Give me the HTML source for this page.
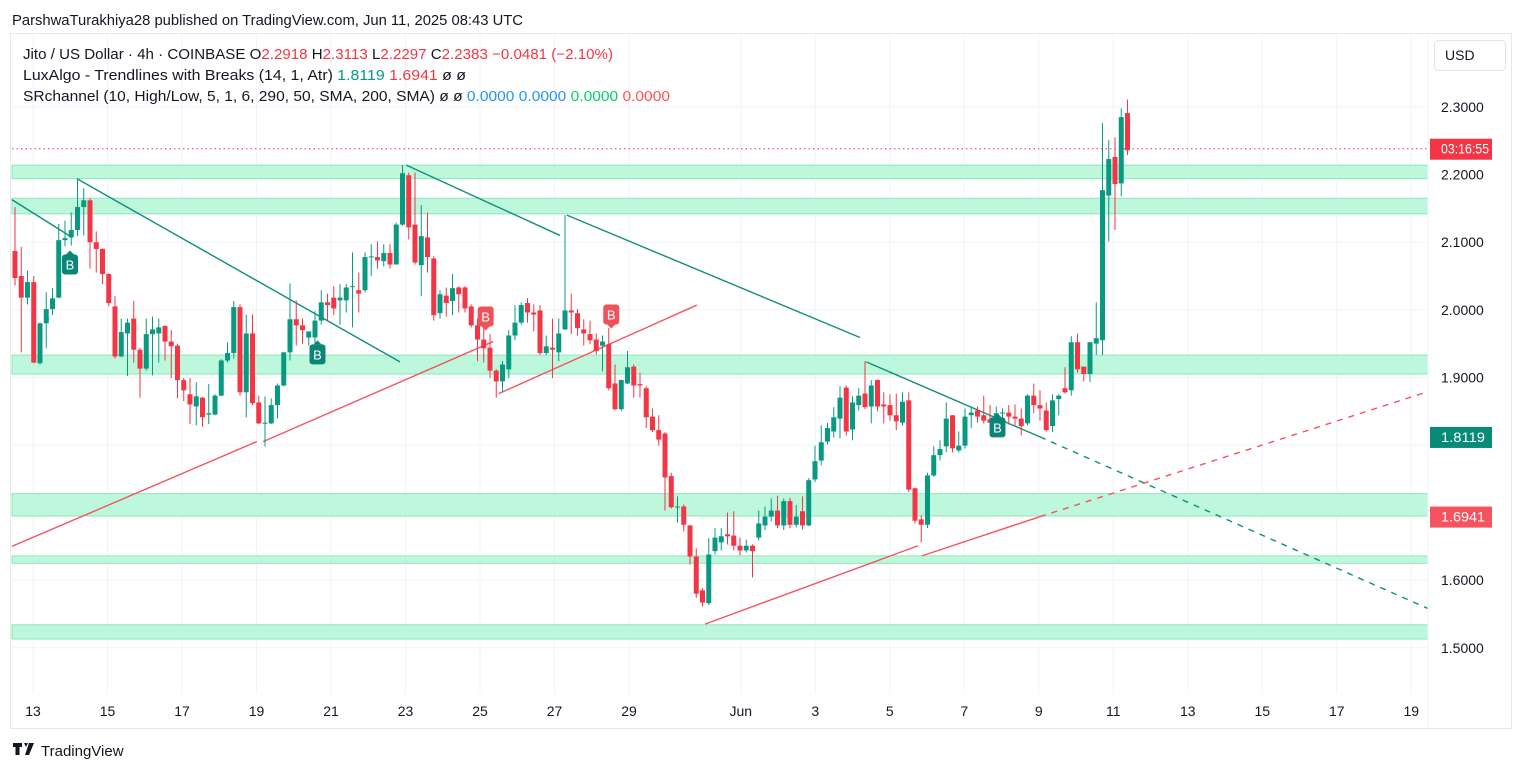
<!DOCTYPE html>
<html><head><meta charset="utf-8">
<style>
body{margin:0;background:#fff;font-family:"Liberation Sans",sans-serif;}
#wrap{position:relative;width:1524px;height:772px;overflow:hidden;}
svg text{font-family:"Liberation Sans",sans-serif;}
</style></head>
<body>
<div id="wrap">
<svg id="chart" width="1524" height="772" viewBox="0 0 1524 772">
  <text x="12" y="25" font-size="15" fill="#131722" textLength="511" lengthAdjust="spacingAndGlyphs">ParshwaTurakhiya28 published on TradingView.com, Jun 11, 2025 08:43 UTC</text>
  <rect x="10.5" y="33.5" width="1501" height="695" fill="#fff" stroke="#e8e9ec"/>
  <g id="grid"></g>
  <g id="zones"></g>
  <g id="lines"></g>
  <g id="candles"></g>
  <g id="labels"></g>
  <g id="yaxis"></g>
  <g id="xaxis"></g>
  <g font-size="14.5" xml:space="preserve">
    <text x="23" y="59" fill="#131722" textLength="590" lengthAdjust="spacingAndGlyphs">Jito / US Dollar · 4h · COINBASE  O<tspan fill="#f23645">2.2918</tspan>  H<tspan fill="#f23645">2.3113</tspan>  L<tspan fill="#f23645">2.2297</tspan>  C<tspan fill="#f23645">2.2383</tspan>  <tspan fill="#f23645">−0.0481 (−2.10%)</tspan></text>
    <text x="23" y="80" fill="#131722" textLength="443" lengthAdjust="spacingAndGlyphs">LuxAlgo - Trendlines with Breaks (14, 1, Atr)  <tspan fill="#089981">1.8119</tspan>  <tspan fill="#f23645">1.6941</tspan>  ø  ø</text>
    <text x="23" y="101" fill="#131722" textLength="647" lengthAdjust="spacingAndGlyphs">SRchannel (10, High/Low, 5, 1, 6, 290, 50, SMA, 200, SMA)  ø  ø  <tspan fill="#2196f3">0.0000</tspan>  <tspan fill="#2196f3">0.0000</tspan>  <tspan fill="#00d26a">0.0000</tspan>  <tspan fill="#ff5252">0.0000</tspan></text>
  </g>
  <rect x="1434.5" y="40.5" width="71" height="30" rx="4" fill="#fff" stroke="#e0e3eb"/>
  <text x="1445" y="60" font-size="14" fill="#131722">USD</text>
  <g>
    <path d="M13 743h9v4h-2.5v8h-4v-8H13z M24 743h4l-2 4z M29 743h5l-5 12h-4z" fill="#131722"/>
    <text x="41" y="756" font-size="15" fill="#131722">TradingView</text>
  </g>
</svg>
</div>
<script>
const opens=[2.087,2.050,2.018,2.041,1.921,1.980,2.001,2.018,2.103,2.107,2.118,2.152,2.162,2.100,2.090,2.053,2.005,1.931,1.965,1.987,1.941,1.913,1.964,1.965,1.976,1.953,1.947,1.896,1.875,1.857,1.870,1.845,1.845,1.873,1.925,1.936,2.004,1.878,1.965,1.863,1.832,1.832,1.859,1.888,1.937,1.986,1.977,1.959,1.959,1.984,2.011,2.018,2.014,2.014,2.035,2.029,2.029,2.078,2.078,2.072,2.084,2.067,2.126,2.199,2.126,2.066,2.107,2.076,1.995,2.021,2.013,2.033,2.033,2.005,1.977,1.956,1.944,1.910,1.894,1.912,1.962,1.981,2.010,1.996,1.999,1.936,1.944,1.937,1.971,1.999,1.995,1.971,1.964,1.956,1.947,1.949,1.891,1.853,1.891,1.916,1.890,1.884,1.842,1.822,1.817,1.754,1.708,1.709,1.681,1.635,1.585,1.566,1.643,1.656,1.668,1.666,1.651,1.644,1.651,1.663,1.681,1.694,1.703,1.681,1.717,1.682,1.702,1.681,1.749,1.777,1.805,1.820,1.839,1.885,1.823,1.859,1.876,1.857,1.896,1.860,1.859,1.844,1.833,1.866,1.736,1.690,1.682,1.755,1.785,1.798,1.844,1.792,1.799,1.844,1.851,1.844,1.838,1.836,1.847,1.848,1.842,1.839,1.832,1.873,1.859,1.851,1.828,1.868,1.884,1.881,1.952,1.916,1.905,1.950,1.955,2.169,2.226,2.187,2.291];
const closes=[2.047,2.018,2.041,1.922,1.980,2.001,2.017,2.103,2.106,2.118,2.152,2.162,2.100,2.090,2.053,2.010,1.931,1.967,1.981,1.941,1.913,1.964,1.971,1.974,1.953,1.946,1.896,1.881,1.860,1.872,1.841,1.847,1.873,1.925,1.936,2.004,1.878,1.965,1.862,1.832,1.833,1.859,1.888,1.937,1.986,1.977,1.970,1.968,1.984,2.011,2.007,2.002,2.018,2.033,2.035,2.024,2.078,2.079,2.073,2.084,2.067,2.126,2.202,2.122,2.070,2.109,2.078,1.992,2.023,2.010,2.032,2.023,2.002,1.977,1.956,1.943,1.910,1.894,1.919,1.962,1.981,2.007,1.996,1.993,1.936,1.946,1.941,1.965,1.999,1.996,1.973,1.965,1.955,1.939,1.953,1.884,1.853,1.896,1.915,1.888,1.888,1.841,1.822,1.808,1.752,1.708,1.709,1.682,1.635,1.580,1.567,1.638,1.663,1.665,1.665,1.651,1.644,1.651,1.643,1.684,1.694,1.703,1.681,1.717,1.682,1.694,1.681,1.748,1.776,1.804,1.825,1.841,1.870,1.820,1.863,1.873,1.856,1.888,1.857,1.857,1.844,1.835,1.864,1.734,1.688,1.682,1.755,1.785,1.794,1.839,1.795,1.799,1.842,1.848,1.842,1.836,1.833,1.847,1.848,1.842,1.839,1.828,1.873,1.859,1.854,1.822,1.866,1.873,1.878,1.952,1.912,1.905,1.952,1.958,2.177,2.223,2.186,2.285,2.236];
const highs=[2.152,2.093,2.058,2.050,1.981,2.026,2.032,2.127,2.132,2.144,2.192,2.180,2.165,2.116,2.091,2.054,2.020,1.987,1.987,2.013,1.944,1.987,1.990,1.987,1.977,1.970,1.950,1.899,1.899,1.893,1.871,1.890,1.875,1.927,1.952,2.013,2.008,1.993,1.993,1.873,1.872,1.869,1.891,1.938,2.039,2.014,1.987,1.968,1.998,2.029,2.024,2.035,2.038,2.038,2.085,2.055,2.085,2.097,2.101,2.097,2.097,2.129,2.214,2.203,2.203,2.155,2.144,2.079,2.029,2.033,2.053,2.035,2.035,2.008,1.987,1.974,1.964,1.912,1.924,1.970,2.007,2.011,2.017,2.008,2.007,1.962,1.987,1.987,2.140,2.024,2.001,1.986,1.984,1.965,1.962,1.973,1.919,1.897,1.939,1.919,1.907,1.887,1.854,1.844,1.819,1.759,1.724,1.712,1.682,1.647,1.588,1.662,1.677,1.677,1.700,1.702,1.663,1.660,1.653,1.703,1.709,1.721,1.725,1.721,1.722,1.711,1.724,1.751,1.799,1.829,1.833,1.856,1.887,1.888,1.872,1.884,1.924,1.896,1.897,1.878,1.875,1.876,1.878,1.878,1.737,1.696,1.759,1.798,1.807,1.863,1.844,1.820,1.854,1.857,1.857,1.873,1.859,1.857,1.854,1.859,1.860,1.854,1.875,1.891,1.881,1.863,1.875,1.875,1.915,1.961,1.965,1.916,1.953,2.011,2.276,2.251,2.255,2.298,2.311];
const lows=[2.036,1.937,2.008,1.921,1.919,1.943,1.992,2.017,2.094,2.095,2.109,2.110,2.061,2.055,2.038,2.005,1.928,1.930,1.902,1.922,1.870,1.910,1.903,1.922,1.925,1.899,1.869,1.865,1.831,1.829,1.827,1.831,1.844,1.872,1.922,1.928,1.873,1.841,1.859,1.831,1.798,1.831,1.839,1.887,1.925,1.947,1.950,1.947,1.950,1.978,1.984,1.992,1.978,1.996,1.974,1.996,2.026,2.050,2.061,2.064,2.061,2.067,2.124,2.104,2.067,2.020,2.055,1.984,1.987,1.990,1.992,1.996,1.996,1.974,1.924,1.922,1.899,1.870,1.878,1.899,1.955,1.978,1.981,1.968,1.933,1.933,1.899,1.924,1.970,1.964,1.962,1.947,1.949,1.934,1.909,1.881,1.851,1.850,1.890,1.870,1.870,1.825,1.819,1.799,1.703,1.706,1.685,1.672,1.623,1.574,1.561,1.563,1.638,1.644,1.653,1.644,1.637,1.641,1.604,1.659,1.674,1.687,1.677,1.674,1.677,1.678,1.675,1.680,1.745,1.770,1.801,1.811,1.810,1.814,1.807,1.851,1.853,1.832,1.850,1.832,1.836,1.822,1.829,1.730,1.684,1.656,1.677,1.753,1.777,1.789,1.789,1.789,1.795,1.825,1.833,1.832,1.819,1.830,1.838,1.830,1.829,1.814,1.829,1.847,1.836,1.820,1.819,1.844,1.876,1.873,1.907,1.894,1.893,1.933,1.933,2.101,2.118,2.168,2.229];
const priceTicks=[2.3,2.2,2.1,2.0,1.9,1.5,1.6];
const gridPrices=[2.3,2.2,2.1,2.0,1.9,1.8,1.7,1.6,1.5];
const dayTicks=[13,15,17,19,21,23,25,27,29,32,34,36,38,40,42,44,46,48,50];
const dayLabels=["13","15","17","19","21","23","25","27","29","Jun","3","5","7","9","11","13","15","17","19"];
const zoneTops=[2.214,2.165,1.933,1.728,1.636,1.534];
const zoneBottoms=[2.194,2.142,1.905,1.695,1.625,1.513];
// trendline endpoints: [candleIndex, price]
const resistLines=[[[-0.5,2.163],[8.8,2.109]],[[9.9,2.194],[61.6,1.923]],[[62.6,2.214],[87.2,2.110]],[[88.3,2.140],[135.2,1.959]],[[136.2,1.923],[164,1.812]]];
const supportLines=[[[-0.5,1.650],[38.7,1.805]],[[39.7,1.805],[76.5,1.953]],[[77.4,1.876],[109.1,2.007]],[[110.4,1.535],[144.5,1.651]],[[145.1,1.636],[164,1.694]]];
const resistExt=[[164,1.812],[226.1,1.558]];
const supportExt=[[164,1.694],[226.1,1.879]];
const greenBreaks=[[8.8,2.067],[48.4,1.934],[157.2,1.826]];
const redBreaks=[[75.3,1.990],[95.4,1.993]];
const lastPrice=2.2383, upperValue=1.8119, lowerValue=1.6941;

const NS="http://www.w3.org/2000/svg";
const yS=p=>107+(2.3-p)*676;
const xS=i=>15+i*6.25;
const xD=d=>33+(d-13)*37.25;
const PL=12,PR=1428;
function mk(tag,attrs,parent){const e=document.createElementNS(NS,tag);for(const k in attrs)e.setAttribute(k,attrs[k]);parent.appendChild(e);return e;}
const G=id=>document.getElementById(id);

gridPrices.forEach(p=>{const l=mk('line',{x1:PL,x2:PR,y1:yS(p),y2:yS(p),stroke:'#f0f3fa','stroke-width':1},G('grid'));

});
dayTicks.forEach(d=>{const l=mk('line',{x1:xD(d),x2:xD(d),y1:34,y2:694,stroke:'#f0f3fa','stroke-width':1},G('grid'));

});
zoneTops.forEach((t,k)=>{const r=mk('rect',{x:PL,y:yS(t),width:PR-PL,height:yS(zoneBottoms[k])-yS(t),fill:'#bdf7dc',stroke:'#8fe6bd','stroke-width':1},G('zones'));

});
const lp=mk('line',{x1:PL,x2:PR,y1:yS(lastPrice),y2:yS(lastPrice),stroke:'#f23645','stroke-dasharray':'1.5 3','stroke-width':1},G('lines'));


function tl(seg,color,dash,name){const a={x1:xS(seg[0][0]),y1:yS(seg[0][1]),x2:xS(seg[1][0]),y2:yS(seg[1][1]),stroke:color,'stroke-width':1.4};if(dash)a['stroke-dasharray']=dash;const l=mk('line',a,G('lines'));

}
resistLines.forEach(s=>tl(s,'#0e8f7c',null,'resistance-trendline'));
supportLines.forEach(s=>tl(s,'#f7525f',null,'support-trendline'));
tl(resistExt,'#0e8f7c','6 6','resistance-extension');
tl(supportExt,'#f7525f','6 6','support-extension');
opens.forEach((o,i)=>{const c=closes[i],up=c>=o,col=up?'#089981':'#f23645',x=xS(i);
const w=mk('line',{x1:x,x2:x,y1:yS(highs[i]),y2:yS(lows[i]),stroke:col,'stroke-width':1},G('candles'));


const top=yS(Math.max(o,c)),bot=yS(Math.min(o,c));
const b=mk('rect',{x:x-2.5,y:top,width:5,height:Math.max(1,bot-top),fill:col},G('candles'));

});
function lab(pt,col,down){const x=xS(pt[0]),y=yS(pt[1]);const g=mk('g',{},G('labels'));


mk('rect',{x:x-8,y:y-10,width:16,height:20,rx:3,fill:col},g);
if(down)mk('path',{d:`M${x-4} ${y+10}L${x+4} ${y+10}L${x} ${y+14}Z`,fill:col},g);
else mk('path',{d:`M${x-4} ${y-10}L${x+4} ${y-10}L${x} ${y-14}Z`,fill:col},g);
const t=mk('text',{x:x,y:y+5,'text-anchor':'middle','font-size':13,fill:'#fff'},g);t.textContent='B';}
greenBreaks.forEach(p=>lab(p,'#0b8577',false));
redBreaks.forEach(p=>lab(p,'#f0525c',true));
priceTicks.forEach(p=>{const t=mk('text',{x:1441,y:yS(p)+5,'font-size':14,fill:'#131722'},G('yaxis'));t.textContent=p.toFixed(4);

});
function tag(p,txt,col,name){const y=yS(p);const r=mk('rect',{x:1430,y:y-10,width:62,height:21,fill:col},G('yaxis'));


const t=mk('text',{x:1441,y:y+5,'font-size':14,fill:'#fff',textLength:txt.length>6?48:44,lengthAdjust:'spacingAndGlyphs'},G('yaxis'));t.textContent=txt;}
tag(lastPrice,'03:16:55','#f23645','countdown-tag');
tag(upperValue,'1.8119','#088a78','upper-trend-tag');
tag(lowerValue,'1.6941','#f7525f','lower-trend-tag');
const ax=mk('line',{x1:1428,x2:1428,y1:34,y2:728,stroke:'#f0f3fa'},G('yaxis'));


dayTicks.forEach((d,k)=>{const t=mk('text',{x:xD(d),y:716,'text-anchor':'middle','font-size':14,fill:'#131722'},G('xaxis'));t.textContent=dayLabels[k];

});
</script>
</body></html>
